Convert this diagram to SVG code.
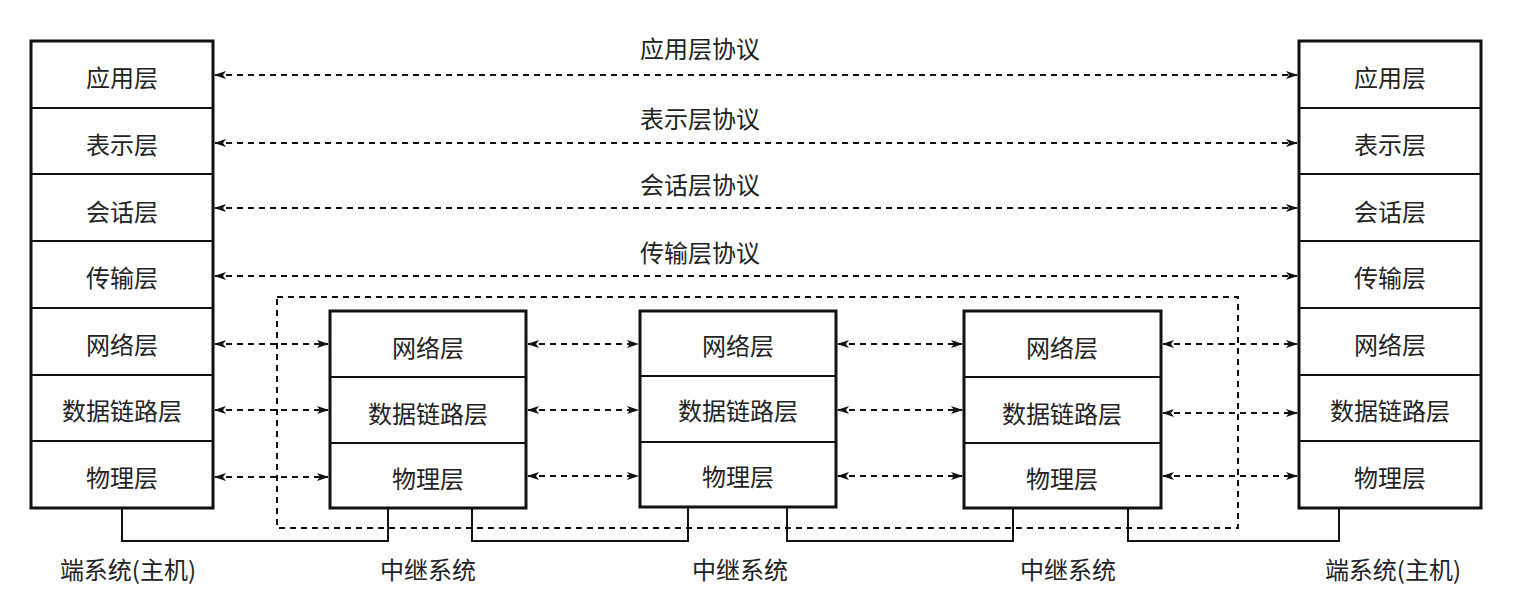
<svg xmlns="http://www.w3.org/2000/svg" width="1530" height="610" viewBox="0 0 1530 610">
<style>
.b{fill:#fff;stroke:#111;stroke-width:3}
.d{stroke:#111;stroke-width:2;stroke-dasharray:6 5;fill:none}
.l{stroke:#111;stroke-width:2;fill:none}
text{font-family:"Noto Sans CJK SC","Liberation Serif",serif;font-size:24px;fill:#222;text-anchor:middle;dominant-baseline:central}
</style>
<defs>
<marker id="a" viewBox="0 0 12 8" refX="11" refY="4" markerWidth="12" markerHeight="8" markerUnits="userSpaceOnUse" orient="auto-start-reverse"><path d="M0,0L12,4L0,8L3,4z" fill="#111"/></marker>
</defs>
<rect width="1530" height="610" fill="#fff"/>
<g id="dashbox"><rect x="277" y="297" width="961" height="231" class="d" stroke-width="1.5" stroke-dasharray="9 6"/></g>
<g id="left">
<rect class="b" x="31" y="41" width="182" height="467"/>
<path class="l" d="M31 108H213M31 174H213M31 241H213M31 308H213M31 375H213M31 441H213" stroke-width="3"/>
<text x="122" y="76">应用层</text><text x="122" y="143">表示层</text><text x="122" y="210">会话层</text><text x="122" y="276">传输层</text><text x="122" y="343">网络层</text><text x="122" y="409">数据链路层</text><text x="122" y="476">物理层</text>
</g>
<g id="right">
<rect class="b" x="1299" y="41" width="182" height="467"/>
<path class="l" d="M1299 108H1481M1299 174H1481M1299 241H1481M1299 308H1481M1299 375H1481M1299 441H1481" stroke-width="3"/>
<text x="1390" y="76">应用层</text><text x="1390" y="143">表示层</text><text x="1390" y="210">会话层</text><text x="1390" y="276">传输层</text><text x="1390" y="343">网络层</text><text x="1390" y="409">数据链路层</text><text x="1390" y="476">物理层</text>
</g>
<g id="r1">
<rect class="b" x="330" y="311" width="196" height="197"/>
<path class="l" stroke-width="3" d="M330 377H526M330 443H526"/>
<text x="428" y="346">网络层</text><text x="428" y="412">数据链路层</text><text x="428" y="477">物理层</text>
</g>
<g id="r2">
<rect class="b" x="640" y="311" width="196" height="196"/>
<path class="l" stroke-width="3" d="M640 376H836M640 442H836"/>
<text x="738" y="344">网络层</text><text x="738" y="409">数据链路层</text><text x="738" y="475">物理层</text>
</g>
<g id="r3">
<rect class="b" x="964" y="311" width="197" height="197"/>
<path class="l" stroke-width="3" d="M964 377H1161M964 443H1161"/>
<text x="1062" y="346">网络层</text><text x="1062" y="412">数据链路层</text><text x="1062" y="477">物理层</text>
</g>
<g id="connectors">
<g marker-start="url(#a)" marker-end="url(#a)" class="d">
<path d="M215 75H1297"/><path d="M215 143H1297"/><path d="M215 208H1297"/><path d="M215 276H1297"/>
<path d="M215 344H328"/><path d="M215 410H328"/><path d="M215 477H328"/>
<path d="M528 344H638"/><path d="M528 410H638"/><path d="M528 476H638"/>
<path d="M838 344H962"/><path d="M838 410H962"/><path d="M838 476H962"/>
<path d="M1163 344H1297"/><path d="M1163 413H1297"/><path d="M1163 476H1297"/>
</g>
<path class="l" d="M122 508V541H388V508M472 508V541H688V507M787 507V541H1013V508M1128 508V541H1339V508"/>
</g>
<g id="labels">
<text x="700" y="47">应用层协议</text><text x="700" y="117">表示层协议</text><text x="700" y="183">会话层协议</text><text x="700" y="251">传输层协议</text>
<text x="128" y="568">端系统(主机)</text><text x="428" y="568">中继系统</text><text x="740" y="568">中继系统</text><text x="1068" y="568">中继系统</text><text x="1393" y="568">端系统(主机)</text>
</g>
</svg>
